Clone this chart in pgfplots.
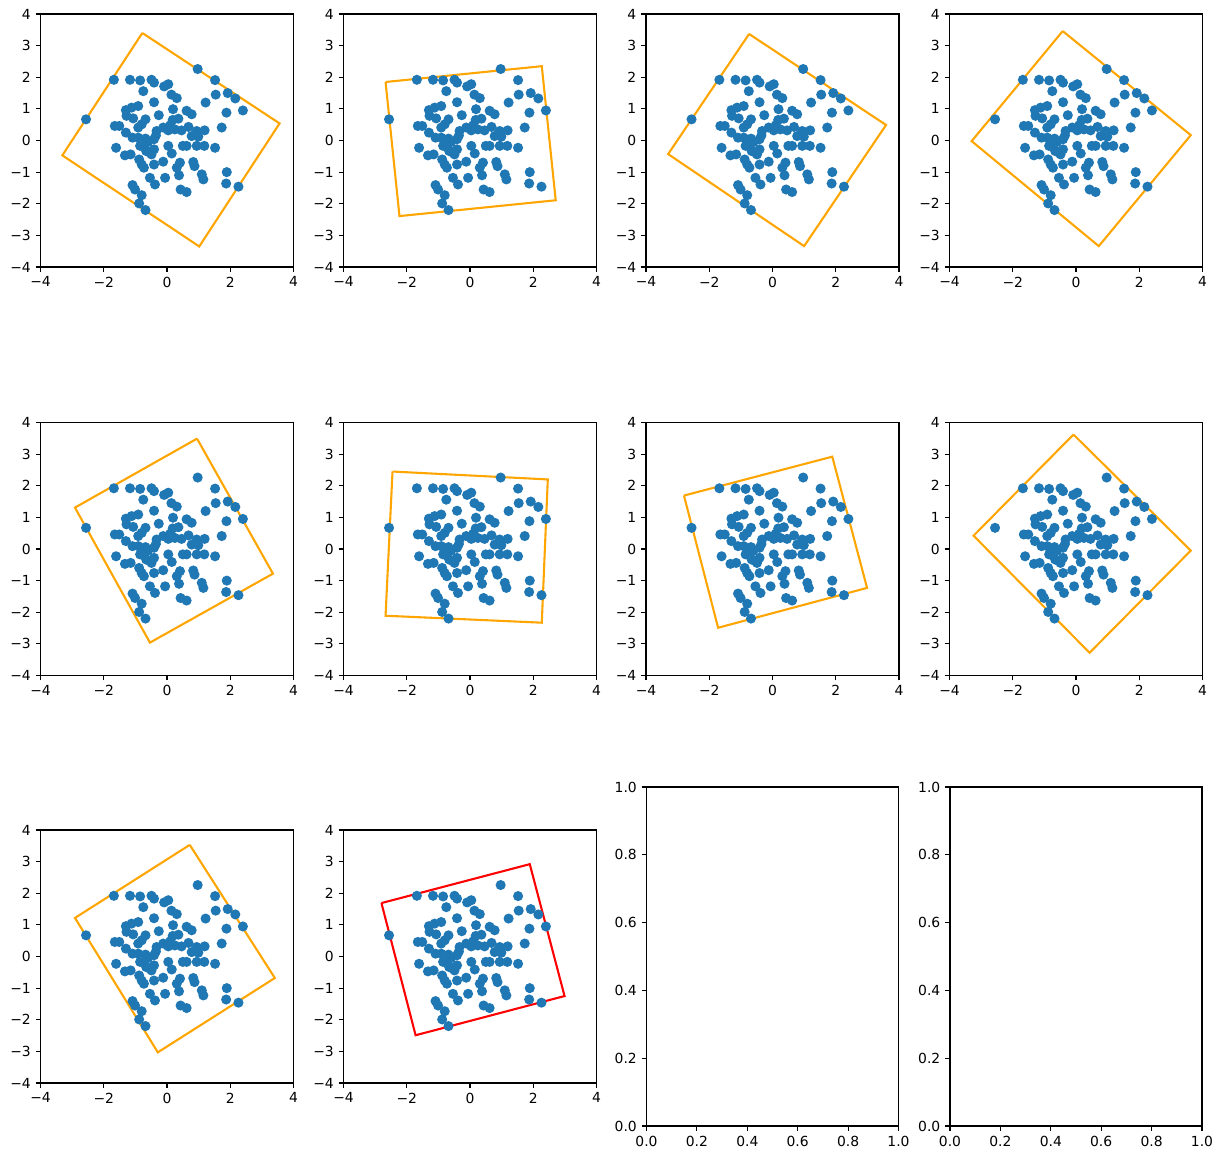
\documentclass[border=0pt]{standalone}
\usepackage{fontspec}
\setmainfont{DejaVu Sans}
\usepackage{pgfplots}
\usepackage{pgfplotstable}
\pgfplotsset{compat=1.18}
\definecolor{mplblue}{HTML}{1F77B4}
\definecolor{mplorange}{HTML}{FFA500}

% the same cloud of points in every panel
\pgfplotstableread{
x y
-2.56 0.67
-1.68 1.92
-1.17 1.92
-0.85 1.90
-0.49 1.92
-0.41 1.83
-0.75 1.56
-0.09 1.71
0.04 1.78
0.97 2.26
1.52 1.91
1.54 1.45
0.14 1.45
0.31 1.34
1.22 1.20
1.92 1.50
2.16 1.33
2.40 0.95
1.88 0.88
1.73 0.41
-0.41 1.21
-0.26 0.80
0.19 0.99
0.62 0.94
0.78 0.83
-1.30 0.96
-1.12 1.04
-0.91 1.09
-1.28 0.78
-1.07 0.70
-0.68 0.67
-0.80 0.51
-0.91 0.41
-1.65 0.46
-1.51 0.46
-1.30 0.25
-1.09 0.09
-0.91 0.09
-0.68 0.06
-0.35 0.16
-0.41 0.04
-0.12 0.41
0.10 0.48
0.04 0.32
0.36 0.69
0.18 0.65
0.46 0.32
0.68 0.43
0.78 0.14
0.94 0.30
0.99 0.12
1.19 0.32
-1.61 -0.23
-1.33 -0.47
-1.15 -0.44
-0.73 -0.17
-0.66 -0.33
-0.49 -0.44
-0.41 -0.28
0.04 -0.17
0.15 -0.41
0.50 -0.17
0.62 -0.17
0.94 -0.17
1.18 -0.17
1.52 -0.23
-0.88 -0.60
-0.80 -0.76
-0.73 -0.86
-0.41 -0.76
-0.12 -0.67
0.41 -0.70
0.31 -0.86
0.38 -1.10
0.83 -0.68
0.87 -0.81
-0.54 -1.18
-0.38 -1.39
-0.06 -1.18
1.10 -1.07
1.15 -1.23
1.89 -1.00
1.87 -1.36
2.26 -1.46
-1.09 -1.41
-1.01 -1.55
-0.80 -1.73
-0.88 -1.99
-0.68 -2.20
0.43 -1.55
0.62 -1.63
-0.59 -0.36
-0.33 0.30
-0.85 -0.17
-0.60 -0.05
0.25 0.35
}\pts

\pgfplotsset{
  base/.style={
    scale only axis, anchor=center,
    tick align=outside, major tick length=3.5pt,
    xtick pos=bottom, ytick pos=left,
    axis line style={line width=0.8pt},
    every tick/.style={black, line width=0.8pt},
    tick label style={font=\fontsize{10}{12}\selectfont},
  },
  sq/.style={
    base, width=182.16pt, height=182.16pt,
    xmin=-4, xmax=4, ymin=-4, ymax=4,
    xtick={-4,-2,0,2,4}, ytick={-4,-3,-2,-1,0,1,2,3,4},
    xticklabels={−4,−2,0,2,4},
    yticklabels={−4,−3,−2,−1,0,1,2,3,4},
  },
  empty/.style={
    base, width=181.4pt, height=244.1pt,
    xmin=0, xmax=1, ymin=0, ymax=1,
    xtick={0,0.2,0.4,0.6,0.8,1}, ytick={0,0.2,0.4,0.6,0.8,1},
    xticklabels={0.0,0.2,0.4,0.6,0.8,1.0},
    yticklabels={0.0,0.2,0.4,0.6,0.8,1.0},
  },
  cloud/.style={only marks, mark=*, mark size=3.1pt, color=mplblue,
    mark options={line width=1pt}},
  box/.style={mplorange, line width=1.5pt, line join=miter},
}

\begin{document}
\begin{tikzpicture}
\useasboundingbox (0,0) rectangle (880.56pt,-835.2pt);

% row 1
\begin{axis}[sq, at={(120.24pt,-101.16pt)}]
  \addplot[cloud] table {\pts};
  \addplot[box] coordinates {(-0.78,3.40)(3.56,0.54)(1.02,-3.35)(-3.31,-0.47)(-0.78,3.40)};
\end{axis}
\begin{axis}[sq, at={(338.4pt,-101.16pt)}]
  \addplot[cloud] table {\pts};
  \addplot[box] coordinates {(-2.67,1.85)(2.27,2.35)(2.71,-1.89)(-2.23,-2.39)(-2.67,1.85)};
\end{axis}
\begin{axis}[sq, at={(556.2pt,-101.16pt)}]
  \addplot[cloud] table {\pts};
  \addplot[box] coordinates {(-0.74,3.37)(3.59,0.49)(1.00,-3.34)(-3.30,-0.43)(-0.74,3.37)};
\end{axis}
\begin{axis}[sq, at={(774.72pt,-101.16pt)}]
  \addplot[cloud] table {\pts};
  \addplot[box] coordinates {(-0.42,3.46)(3.63,0.17)(0.72,-3.34)(-3.30,-0.02)(-0.42,3.46)};
\end{axis}

% row 2
\begin{axis}[sq, at={(120.24pt,-395.28pt)}]
  \addplot[cloud] table {\pts};
  \addplot[box] coordinates {(0.95,3.49)(3.35,-0.78)(-0.54,-2.96)(-2.91,1.31)(0.95,3.49)};
\end{axis}
\begin{axis}[sq, at={(338.4pt,-395.28pt)}]
  \addplot[cloud] table {\pts};
  \addplot[box] coordinates {(-2.45,2.45)(2.46,2.20)(2.27,-2.33)(-2.67,-2.11)(-2.45,2.45)};
\end{axis}
\begin{axis}[sq, at={(556.2pt,-395.28pt)}]
  \addplot[cloud] table {\pts};
  \addplot[box] coordinates {(-2.80,1.69)(1.89,2.92)(2.99,-1.23)(-1.72,-2.49)(-2.80,1.69)};
\end{axis}
\begin{axis}[sq, at={(774.72pt,-395.28pt)}]
  \addplot[cloud] table {\pts};
  \addplot[box] coordinates {(-0.08,3.62)(3.63,-0.05)(0.43,-3.28)(-3.24,0.42)(-0.08,3.62)};
\end{axis}

% row 3
\begin{axis}[sq, at={(120.24pt,-688.68pt)}]
  \addplot[cloud] table {\pts};
  \addplot[box] coordinates {(0.72,3.53)(3.41,-0.68)(-0.29,-3.03)(-2.91,1.22)(0.72,3.53)};
\end{axis}
\begin{axis}[sq, at={(338.4pt,-688.68pt)}]
  \addplot[cloud] table {\pts};
  \addplot[box, red] coordinates {(-2.80,1.69)(1.89,2.92)(2.99,-1.25)(-1.72,-2.49)(-2.80,1.69)};
\end{axis}
\begin{axis}[empty, at={(556.2pt,-688.68pt)}]
\end{axis}
\begin{axis}[empty, at={(774.72pt,-688.68pt)}]
\end{axis}
\end{tikzpicture}
\end{document}
